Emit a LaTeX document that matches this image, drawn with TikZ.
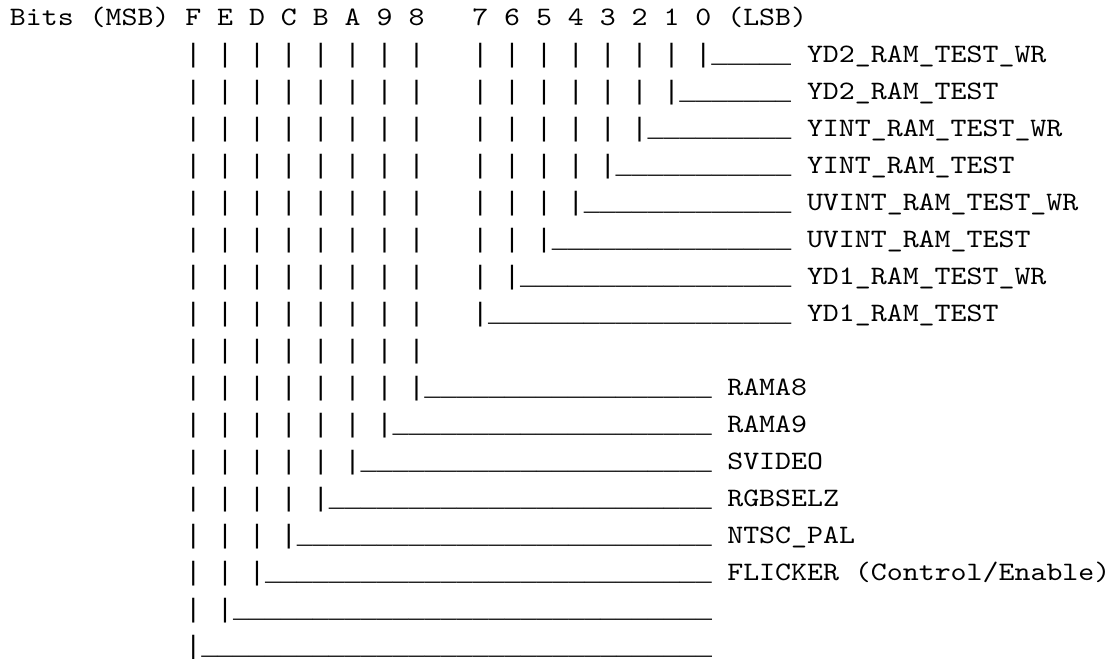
\documentclass[tikz,border=0pt]{standalone}
\usepackage{fontspec}
\usetikzlibrary{positioning}
\newfontfamily\labelmono[FakeStretch=1.143]{lmmono10-regular.otf}
\newfontfamily\wiremono{Liberation Mono}
\newcommand{\usrun}[1]{\foreach \uu in {1,...,#1}{\_}}

\begin{document}
\begin{tikzpicture}[
        x=7.97pt, y=-18.5pt,
        asciiText/.style={inner sep=0pt, outer sep=0pt, anchor=base west, font=\labelmono\fontsize{13.3pt}{16pt}\selectfont},
        wireText/.style={inner sep=0pt, outer sep=0pt, anchor=base west, font=\wiremono\fontsize{13.3pt}{16pt}\selectfont}
    ]
        \useasboundingbox (-5pt,12.5pt) rectangle (555pt,-317pt);

        % Header
        \node[asciiText] (bits) at (0,0) {Bits};
        \node[asciiText] (msb) at (5,0) {(MSB)};
        \foreach \bitch [count=\kk from 0] in {F,E,D,C,B,A,9,8}
            \node[asciiText] (bit\bitch) at (11+2*\kk,0) {\bitch};
        \foreach \bitch [count=\kk from 0] in {7,6,5,4,3,2,1,0}
            \node[asciiText] (bit\bitch) at (29+2*\kk,0) {\bitch};
        \node[asciiText] (lsb) at (45,0) {(LSB)};

        % Low byte: bits 0..7
        \foreach \lbl [count=\row] in {YD2\_RAM\_TEST\_WR, YD2\_RAM\_TEST, YINT\_RAM\_TEST\_WR, YINT\_RAM\_TEST,
                                       UVINT\_RAM\_TEST\_WR, UVINT\_RAM\_TEST, YD1\_RAM\_TEST\_WR, YD1\_RAM\_TEST} {
            \pgfmathtruncatemacro{\np}{9-\row}
            \pgfmathtruncatemacro{\bc}{45-2*\row}
            \pgfmathtruncatemacro{\nus}{2*\row+3}
            \foreach \col in {11,13,...,25}
                \node[wireText] (pipe\row-\col) at (\col,\row) {|};
            \foreach \kk in {1,...,\np}
                \node[wireText] (pipe\row-\kk) at (27+2*\kk,\row) {|};
            \node[wireText] (run\row) at (\bc+1,\row) {\usrun{\nus}};
            \node[asciiText] (field\row) at (50,\row) {\lbl};
        }

        % Spacer row
        \foreach \col in {11,13,...,25}
            \node[wireText] (pipe9-\col) at (\col,9) {|};

        % High byte: bits 8..F
        \foreach \lbl [count=\jj from 0] in {RAMA8, RAMA9, SVIDEO, RGBSELZ, NTSC\_PAL, FLICKER (Control/Enable)} {
            \pgfmathtruncatemacro{\row}{10+\jj}
            \pgfmathtruncatemacro{\np}{8-\jj}
            \pgfmathtruncatemacro{\bc}{25-2*\jj}
            \pgfmathtruncatemacro{\nus}{18+2*\jj}
            \foreach \kk in {1,...,\np}
                \node[wireText] (pipe\row-\kk) at (9+2*\kk,\row) {|};
            \node[wireText] (run\row) at (\bc+1,\row) {\usrun{\nus}};
            \node[asciiText] (field\row) at (45,\row) {\lbl};
        }

        % Bits E and F, no name
        \node[wireText] (pipe16-1) at (11,16) {|};
        \node[wireText] (pipe16-2) at (13,16) {|};
        \node[wireText] (run16) at (14,16) {\usrun{30}};
        \node[wireText] (pipe17-1) at (11,17) {|};
        \node[wireText] (run17) at (12,17) {\usrun{32}};
    \end{tikzpicture}
\end{document}
